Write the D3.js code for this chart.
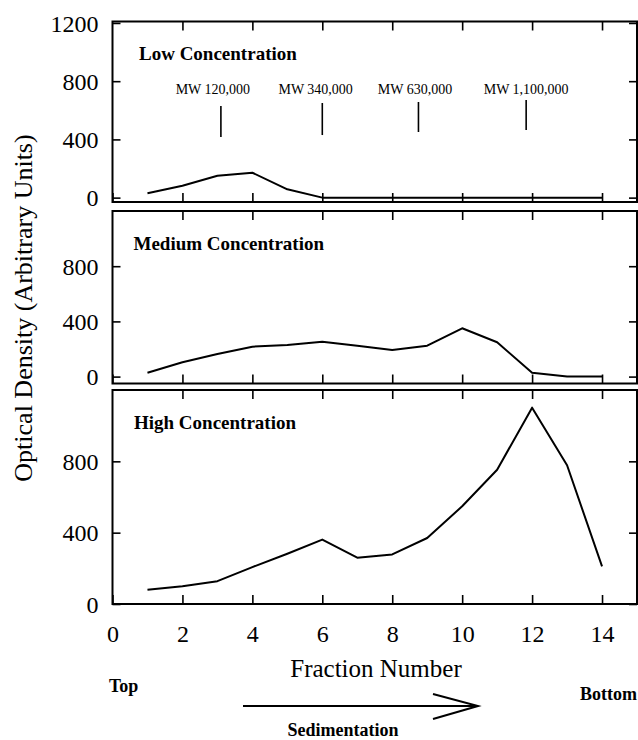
<!DOCTYPE html>
<html>
<head>
<meta charset="utf-8">
<script src="https://cdn.jsdelivr.net/npm/d3@7"></script>
<style>
  body { margin: 0; background: #fff; }
  svg { display: block; font-family: "Liberation Serif", "Times New Roman", serif; }
</style>
</head>
<body>
<div id="chart"></div>
<script>
// values
const fractions = [1, 2, 3, 4, 5, 6, 7, 8, 9, 10, 11, 12, 13, 14];
const lowConc = [30, 82, 150, 171, 57, 0, 0, 0, 0, 0, 0, 0, 0, 0];
const mediumConc = [28, 104, 164, 217, 229, 253, 224, 193, 224, 350, 249, 28, 0, 0];
const highConc = [80, 100, 128, 207, 282, 361, 260, 278, 370, 548, 753, 1101, 778, 211];

const panelNames = ["Low Concentration", "Medium Concentration", "High Concentration"];
const panelTicks = [[0, 400, 800, 1200], [0, 400, 800], [0, 400, 800]];
const xTickValues = [0, 2, 4, 6, 8, 10, 12, 14];

// molecular weight markers (fraction position, line extent in OD units)
const markerLabels = ["MW 120,000", "MW 340,000", "MW 630,000", "MW 1,100,000"];
const markerAt = [3.1, 6, 8.75, 11.83];
const markerLabelAt = [2.87, 5.81, 8.65, 11.83];
const markerBottom = [416, 430, 451, 464];
const markerTop = [629, 650, 657, 671];

const series = [lowConc, mediumConc, highConc];

const width = 638;
const height = 740;

// panel layout: pixel extent and y domain of each box
const layout = [
  { top: 21.5, bottom: 202, domain: [-30, 1210], titleX: 139 },
  { top: 211, bottom: 383.5, domain: [-50, 1200], titleX: 133.5 },
  { top: 390, bottom: 604, domain: [0, 1200], titleX: 134 },
];

const svg = d3.select("#chart").append("svg")
  .attr("width", width)
  .attr("height", height);

const x = d3.scaleLinear().domain([0, 15]).range([112.5, 637]);

const line = (y) => d3.line()
  .x((d) => x(d[0]))
  .y((d) => y(d[1]));

series.forEach((vals, i) => {
  const p = layout[i];
  const y = d3.scaleLinear().domain(p.domain).range([p.bottom, p.top]);
  const g = svg.append("g");

  // inward ticks on all four sides
  const left = g.append("g")
    .attr("transform", `translate(${x.range()[0]},0)`)
    .call(d3.axisLeft(y).tickValues(panelTicks[i]).tickFormat(d3.format("d"))
      .tickSize(-8).tickSizeOuter(0).tickPadding(14));
  left.selectAll("text")
    .attr("font-family", "Liberation Serif")
    .attr("font-size", 24)
    .attr("fill", "#000")
    .attr("dy", "0.34em");

  g.append("g")
    .attr("transform", `translate(${x.range()[1]},0)`)
    .call(d3.axisRight(y).tickValues(panelTicks[i]).tickSize(-8).tickSizeOuter(0).tickFormat(""));

  g.append("g")
    .attr("transform", `translate(0,${p.top})`)
    .call(d3.axisTop(x).tickValues(xTickValues.slice(1)).tickSize(-9).tickSizeOuter(0).tickFormat(""));

  const bottom = g.append("g")
    .attr("transform", `translate(0,${p.bottom})`)
    .call(d3.axisBottom(x).tickValues(xTickValues).tickSize(-9).tickSizeOuter(0).tickPadding(20.5)
      .tickFormat(i === 2 ? d3.format("d") : ""));
  bottom.selectAll("text")
    .attr("font-family", "Liberation Serif")
    .attr("font-size", 24)
    .attr("fill", "#000");

  g.selectAll(".domain").remove();
  g.selectAll(".tick line").attr("stroke", "#000").attr("stroke-width", 1.6);

  // frame
  g.append("rect")
    .attr("x", x.range()[0])
    .attr("y", p.top)
    .attr("width", x.range()[1] - x.range()[0])
    .attr("height", p.bottom - p.top)
    .attr("fill", "none")
    .attr("stroke", "#000")
    .attr("stroke-width", 2);

  g.append("path")
    .datum(fractions.map((f, k) => [f, vals[k]]))
    .attr("d", line(y))
    .attr("fill", "none")
    .attr("stroke", "#000")
    .attr("stroke-width", 2)
    .attr("stroke-linejoin", "round");

  g.append("text")
    .attr("x", p.titleX)
    .attr("y", p.top + 38.5)
    .attr("font-size", 19)
    .attr("font-weight", "bold")
    .text(panelNames[i]);

  if (i === 0) {
    const mk = g.selectAll(".marker")
      .data(markerLabels.map((l, k) => ({ l, at: markerAt[k], lab: markerLabelAt[k], y0: markerBottom[k], y1: markerTop[k] })))
      .join("g")
      .attr("class", "marker");
    mk.append("line")
      .attr("x1", (d) => x(d.at))
      .attr("x2", (d) => x(d.at))
      .attr("y1", (d) => y(d.y0))
      .attr("y2", (d) => y(d.y1))
      .attr("stroke", "#000")
      .attr("stroke-width", 1.6);
    mk.append("text")
      .attr("x", (d) => x(d.lab))
      .attr("y", y(715))
      .attr("text-anchor", "middle")
      .attr("font-size", 14)
      .text((d) => d.l);
  }
});

// axis titles
svg.append("text")
  .attr("transform", "translate(32,308) rotate(-90)")
  .attr("text-anchor", "middle")
  .attr("font-size", 26)
  .text("Optical Density (Arbitrary Units)");

svg.append("text")
  .attr("x", 376)
  .attr("y", 677)
  .attr("text-anchor", "middle")
  .attr("font-size", 25)
  .text("Fraction Number");

svg.append("text")
  .attr("x", 109)
  .attr("y", 691.5)
  .attr("font-size", 18)
  .attr("font-weight", "bold")
  .text("Top");

svg.append("text")
  .attr("x", 637)
  .attr("y", 700)
  .attr("text-anchor", "end")
  .attr("font-size", 18)
  .attr("font-weight", "bold")
  .text("Bottom");

// sedimentation arrow
svg.append("line")
  .attr("x1", 243).attr("x2", 478)
  .attr("y1", 706).attr("y2", 706)
  .attr("stroke", "#000").attr("stroke-width", 2);
svg.append("path")
  .attr("d", "M433,694 L478,706 L433,719")
  .attr("fill", "none")
  .attr("stroke", "#000").attr("stroke-width", 2);

svg.append("text")
  .attr("x", 343)
  .attr("y", 736)
  .attr("text-anchor", "middle")
  .attr("font-size", 18)
  .attr("font-weight", "bold")
  .text("Sedimentation");
</script>
</body>
</html>
